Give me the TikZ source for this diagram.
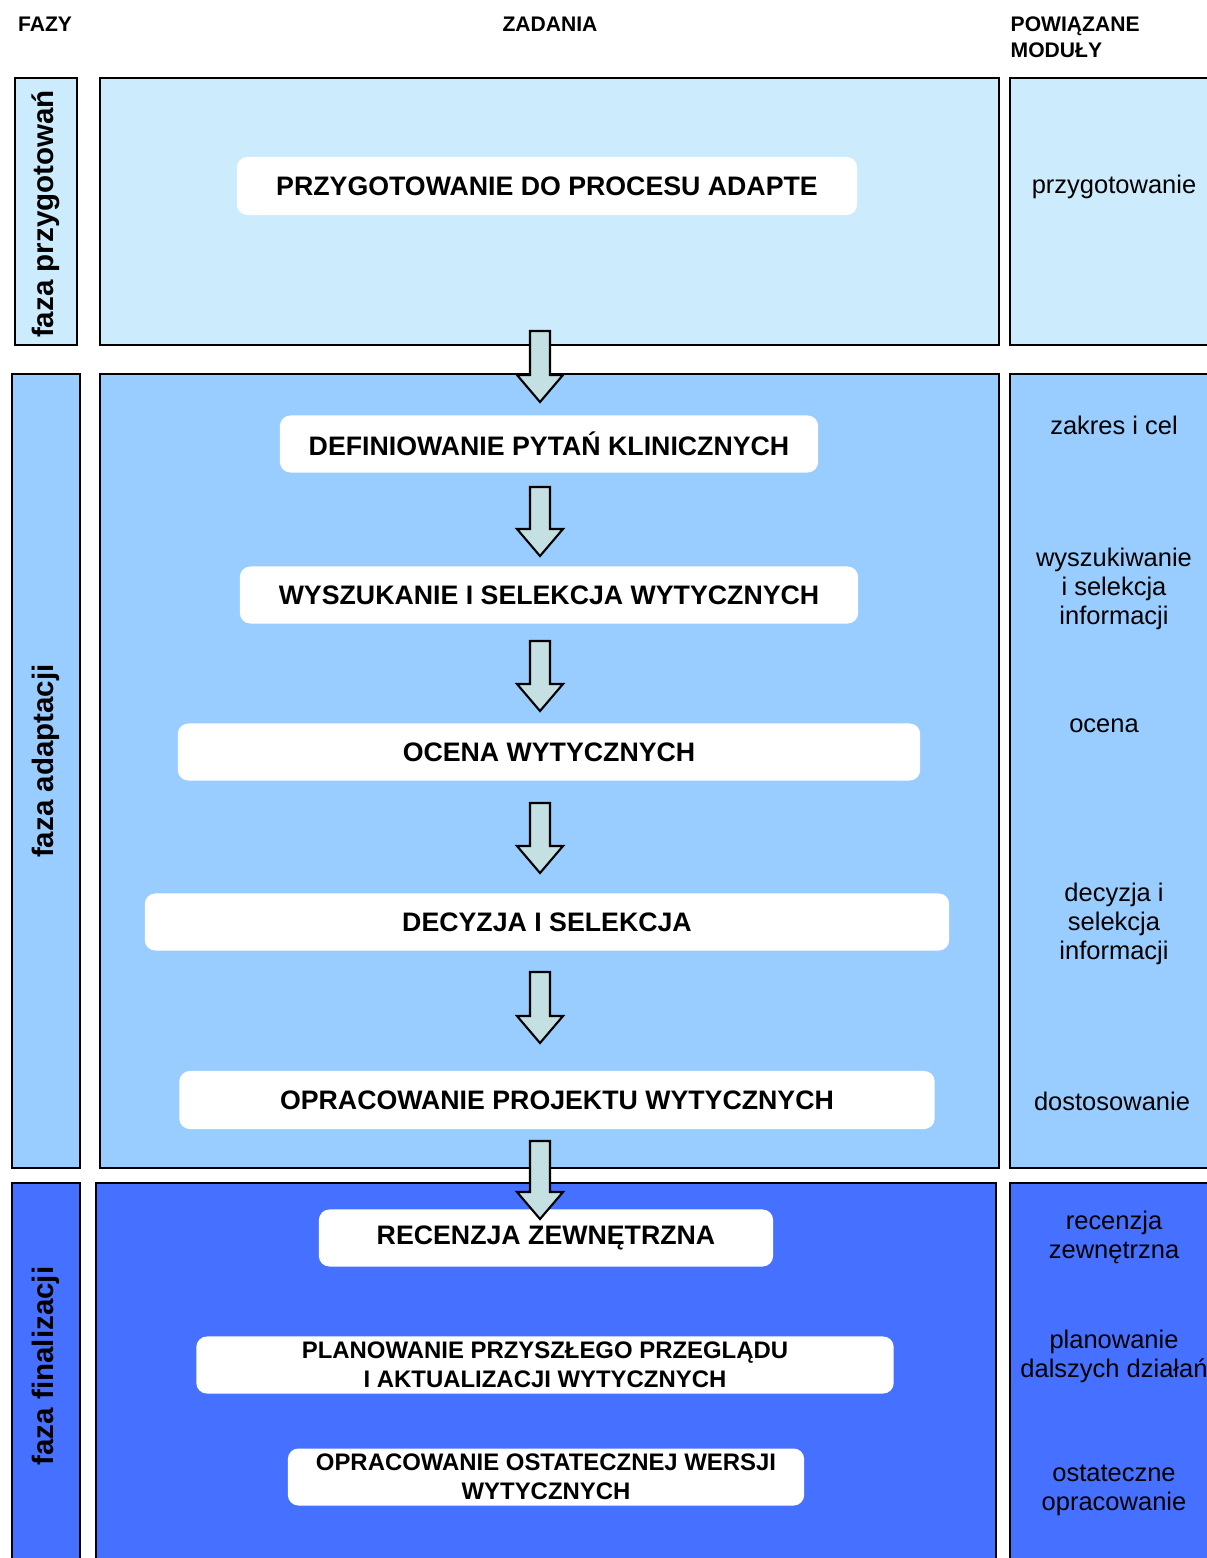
\documentclass[tikz,border=0pt]{standalone}
\usepackage{fontspec}
\setmainfont{Liberation Sans}
\usetikzlibrary{calc}
\definecolor{prepblue}{HTML}{CCEBFC}
\definecolor{adaptblue}{HTML}{99CCFF}
\definecolor{finalblue}{HTML}{4670FF}
\definecolor{arrowfill}{HTML}{C4E0E2}
\tikzset{
	framestyle/.style={draw=black,line width=0.6pt},
	taskstyle/.style={rectangle,rounded corners=3pt,fill=white,font=\bfseries\fontsize{7.6}{8.3}\selectfont,align=center,inner sep=0pt},
	smalltaskstyle/.style={taskstyle,font=\bfseries\fontsize{6.8}{8.2}\selectfont},
	modulestyle/.style={font=\fontsize{7.25}{8.3}\selectfont,align=center,inner sep=0pt},
	phasestyle/.style={font=\bfseries\fontsize{8.4}{9}\selectfont,rotate=90,inner sep=0pt},
	headstyle/.style={font=\bfseries\fontsize{6}{7.4}\selectfont,inner sep=0pt},
	arrowstyle/.style={draw=black,line width=0.6pt,fill=arrowfill,line join=miter}
}
% block arrow pointing down: name, x, top, tip
\newcommand{\flowarrow}[4]{%
	\draw[arrowstyle] (#2-10,#3) -- (#2+10,#3) -- (#2+10,#4-27) -- (#2+23,#4-27)
		-- (#2,#4) -- (#2-23,#4-27) -- (#2-10,#4-27) -- cycle;
	\coordinate (#1) at (#2,#4);}

\begin{document}
\begin{tikzpicture}[x=0.01cm,y=-0.01cm]
	\useasboundingbox (0,0) rectangle (1207,1558);
	\begin{scope}
	\clip (0,0) rectangle (1207,1558);
	% column heads
	\node[headstyle] (hphase) at (45,24) {FAZY};
	\node[headstyle] (htask) at (550,24) {ZADANIA};
	\node[headstyle,anchor=west,align=left] (hmodule) at (1010,37) {POWIĄZANE\\MODUŁY};

	% phase frames
	\draw[framestyle,fill=prepblue] (15,78) rectangle (77,345);
	\draw[framestyle,fill=prepblue] (100,78) rectangle (999,345);
	\draw[framestyle,fill=prepblue] (1010,78) rectangle (1230,345);
	\draw[framestyle,fill=adaptblue] (12,374) rectangle (80,1168);
	\draw[framestyle,fill=adaptblue] (100,374) rectangle (999,1168);
	\draw[framestyle,fill=adaptblue] (1010,374) rectangle (1230,1168);
	\draw[framestyle,fill=finalblue] (12,1183) rectangle (80,1590);
	\draw[framestyle,fill=finalblue] (96,1183) rectangle (996,1590);
	\draw[framestyle,fill=finalblue] (1010,1183) rectangle (1230,1590);

	\node[phasestyle] (p1) at (46,214) {faza przygotowań};
	\node[phasestyle] (p2) at (46,761) {faza adaptacji};
	\node[phasestyle] (p3) at (46,1366) {faza finalizacji};

	% tasks
	\node[taskstyle,minimum width=6.2cm,minimum height=0.58cm] (t1) at (547,186) {PRZYGOTOWANIE DO PROCESU ADAPTE};
	\node[taskstyle,minimum width=5.38cm,minimum height=0.57cm] (t2) at (549,444) {DEFINIOWANIE PYTAŃ KLINICZNYCH};
	\node[taskstyle,minimum width=6.18cm,minimum height=0.57cm] (t3) at (549,595) {WYSZUKANIE I SELEKCJA WYTYCZNYCH};
	\node[taskstyle,minimum width=7.42cm,minimum height=0.57cm] (t4) at (549,752) {OCENA WYTYCZNYCH};
	\node[taskstyle,minimum width=8.04cm,minimum height=0.57cm] (t5) at (547,922) {DECYZJA I SELEKCJA};
	\node[taskstyle,minimum width=7.55cm,minimum height=0.58cm] (t6) at (557,1100) {OPRACOWANIE PROJEKTU WYTYCZNYCH};
	\node[taskstyle,minimum width=4.54cm,minimum height=0.57cm] (t7) at (546,1238) {RECENZJA ZEWNĘTRZNA};
	\node[smalltaskstyle,minimum width=6.97cm,minimum height=0.57cm] (t8) at (545,1365) {PLANOWANIE PRZYSZŁEGO PRZEGLĄDU\\I AKTUALIZACJI WYTYCZNYCH};
	\node[smalltaskstyle,minimum width=5.16cm,minimum height=0.57cm] (t9) at (546,1477) {OPRACOWANIE OSTATECZNEJ WERSJI\\WYTYCZNYCH};

	% arrows between tasks
	\flowarrow{a1}{540}{331}{402}
	\flowarrow{a2}{540}{487}{556}
	\flowarrow{a3}{540}{641}{711}
	\flowarrow{a4}{540}{803}{873}
	\flowarrow{a5}{540}{972}{1043}
	\flowarrow{a6}{540}{1141}{1219}

	% related modules
	\node[modulestyle] (m1) at (1114,187) {przygotowanie};
	\node[modulestyle] (m2) at (1114,425) {zakres i cel};
	\node[modulestyle] (m3) at (1114,589) {wyszukiwanie\\i selekcja\\informacji};
	\node[modulestyle] (m4) at (1104,726) {ocena};
	\node[modulestyle] (m5) at (1114,924) {decyzja i\\selekcja\\informacji};
	\node[modulestyle] (m6) at (1112,1101) {dostosowanie};
	\node[modulestyle] (m7) at (1114,1237) {recenzja\\zewnętrzna};
	\node[modulestyle] (m8) at (1114,1356) {planowanie\\dalszych działań};
	\node[modulestyle] (m9) at (1114,1490) {ostateczne\\opracowanie};
	\end{scope}
\end{tikzpicture}
\end{document}
